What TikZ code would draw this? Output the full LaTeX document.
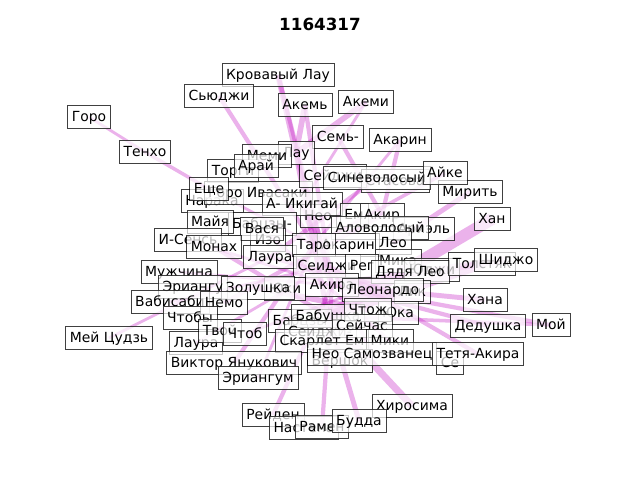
\documentclass[tikz,border=0pt]{standalone}
\usepackage{fontspec}
\setmainfont{DejaVu Sans}
\usetikzlibrary{backgrounds}
\definecolor{edgem}{RGB}{191,0,191}
\tikzset{
  lbl/.style={draw=black, draw opacity=0.75, fill=white, fill opacity=0.7, text opacity=1,
    inner xsep=3pt, inner ysep=2.9pt, text height=8.4pt, text depth=2.5pt,
    font=\fontsize{9.9}{11}\selectfont},
  edge/.style={draw=edgem, draw opacity=0.3},
}
\begin{document}
\begin{tikzpicture}[x=0.025cm, y=-0.025cm]
   \useasboundingbox (0,0) rectangle (640,480);
   \node[font=\bfseries\fontsize{11.9}{13}\selectfont] (title) at (320,24) {1164317};

        % labels, outer ring
        \node[lbl] (krov) at (278,75) {Кровавый Лау};
        \node[lbl] (sjudzhi) at (219,96) {Сьюджи};
        \node[lbl] (akem) at (305,105) {Акемь};
        \node[lbl] (akemi) at (366,102) {Акеми};
        \node[lbl] (goro) at (89,117) {Горо};
        \node[lbl] (tenho) at (145,152) {Тенхо};
        \node[lbl] (sem) at (338,137) {Семь-};
        \node[lbl] (akarin) at (400,140) {Акарин};
        \node[lbl] (mirit) at (470,192) {Мирить};
        \node[lbl] (han) at (492,219) {Хан};
        \node[lbl] (meicz) at (109,338) {Мей Цудзь};
        \node[lbl] (moj) at (551,325) {Мой};
        \node[lbl] (hirosima) at (412,406) {Хиросима};
        \node[lbl] (rejden) at (273,415) {Рейден};
        \node[lbl] (nastena) at (304,428) {Настена};
        \node[lbl] (ramen) at (322,427) {Рамен};
        \node[lbl] (budda) at (359,421) {Будда};

        % labels, upper middle
        \node[lbl] (naraka) at (212,201) {Нарака};
        \node[lbl] (torgi) at (233,171) {Торги};
        \node[lbl] (goroiv) at (258,193) {Горо Ивасаки};
        \node[lbl] (esche) at (209,189) {Еще};
        \node[lbl] (lau) at (296,153) {Лау};
        \node[lbl] (memi) at (267,156) {Меми};
        \node[lbl] (araj) at (256,166) {Арай};
        \node[lbl] (sej) at (333,176) {Сейджи};
        \node[lbl] (stas) at (395,181) {Стасова};
        \node[lbl] (sinev) at (377,178) {Синеволосый};
        \node[lbl] (ajke) at (445,173) {Айке};
        \node[lbl] (neo) at (318,216) {Нео};
        \node[lbl] (ikigaj) at (302,204) {А- Икигай};
        \node[lbl] (em) at (354,215) {Ем};
        \node[lbl] (akir) at (382,215) {Акир};
        \node[lbl] (ariel) at (424,229) {Ариэль};
        \node[lbl] (alovol) at (380,228) {Аловолосый};

        % labels, left middle
        \node[lbl] (babcy) at (262,224) {Бабцзы-};
        \node[lbl] (izo) at (268,240) {Изо};
        \node[lbl] (majya) at (210,222) {Майя};
        \node[lbl] (vasya) at (262,229) {Вася};
        \node[lbl] (isens) at (188,240) {И-Сенсь};
        \node[lbl] (monah) at (214,247) {Монах};
        \node[lbl] (laura) at (270,257) {Лаура};
        \node[lbl] (karin) at (348,245) {Акарин};
        \node[lbl] (taro) at (314,245) {Таро};
        \node[lbl] (leo) at (393,243) {Лео};
        \node[lbl] (seidzh) at (327,266) {Сеиджи};
        \node[lbl] (mika) at (398,261) {Мика};
        \node[lbl] (reg) at (362,266) {Рег};
        \node[lbl] (yudzhi) at (432,270) {Юджи};
        \node[lbl] (dyadya) at (410,272) {Дядя Лео};
        \node[lbl] (tolstyak) at (482,264) {Толстяк};
        \node[lbl] (shidzho) at (506,260) {Шиджо};

        % labels, lower middle
        \node[lbl] (muzh) at (179,272) {Мужчина};
        \node[lbl] (eriangu) at (193,287) {Эриангу};
        \node[lbl] (yuki) at (285,289) {Юки};
        \node[lbl] (zolushka) at (258,288) {Золушка};
        \node[lbl] (akira) at (332,285) {Акира};
        \node[lbl] (lik) at (412,292) {Лик};
        \node[lbl] (leonardo) at (383,290) {Леонардо};
        \node[lbl] (hana) at (485,300) {Хана};
        \node[lbl] (vabisabi) at (170,302) {Вабисаби};
        \node[lbl] (nemo) at (224,303) {Немо};
        \node[lbl] (chtoby) at (190,318) {Чтобы};
        \node[lbl] (baoczy) at (300,321) {Бабцзы};
        \node[lbl] (babushka) at (328,316) {Бабушка};
        \node[lbl] (yuka) at (398,313) {Юка};
        \node[lbl] (chtozh) at (368,310) {Чтож};
        \node[lbl] (dedushka) at (488,326) {Дедушка};
        \node[lbl] (laura2) at (196,343) {Лаура};
        \node[lbl] (tvoj) at (220,331) {Твой};
        \node[lbl] (chtob) at (245,334) {Чтоб};
        \node[lbl] (seidzhi) at (320,332) {Сеиджи-};
        \node[lbl] (sejchas) at (362,326) {Сейчас};
        \node[lbl] (skarlet) at (322,341) {Скарлет Ем};
        \node[lbl] (miki) at (390,341) {Мики};
        \node[lbl] (vershok) at (340,361) {Вершок};
        \node[lbl] (neosam) at (372,354) {Нео Самозванец};
        \node[lbl] (se) at (450,363) {Се};
        \node[lbl] (tetya) at (478,354) {Тетя-Акира};
        \node[lbl] (viktor) at (234,363) {Виктор Янукович};
        \node[lbl] (eriangum) at (258,378) {Эриангум};

   \begin{scope}[on background layer]
        \fill[white] (0,0) rectangle (640,480);
        % edges
        \draw[edge, line width=2pt] (goro.center) -- (tenho.center);
        \draw[edge, line width=2.5pt] (tenho.center) -- (esche.center);
        \draw[edge, line width=2pt] (esche.center) -- (taro.center);
        \draw[edge, line width=3pt] (sjudzhi.center) -- (taro.center);
        \draw[edge, line width=4pt] (krov.center) -- (lau.center);
        \draw[edge, line width=3pt] (krov.center) -- (seidzh.center);
        \draw[edge, line width=4pt] (akem.center) -- (lau.center);
        \draw[edge, line width=3pt] (akem.center) -- (akira.center);
        \draw[edge, line width=4pt] (akemi.center) -- (lau.center);
        \draw[edge, line width=2pt] (akemi.center) -- (ikigaj.center);
        \draw[edge, line width=3pt] (sem.center) -- (akir.center);
        \draw[edge, line width=3pt] (akarin.center) -- (akir.center);
        \draw[edge, line width=2pt] (akarin.center) -- (taro.center);
        \draw[edge, line width=2.5pt] (ajke.center) -- (taro.center);
        \draw[edge, line width=3.5pt] (mirit.center) -- (leo.center);
        \draw[edge, line width=8.5pt] (han.center) -- (babushka.center);
        \draw[edge, line width=7pt] (tolstyak.center) -- (babushka.center);
        \draw[edge, line width=5pt] (shidzho.center) -- (akira.center);
        \draw[edge, line width=3.5pt] (hana.center) -- (leonardo.center);
        \draw[edge, line width=3pt] (dedushka.center) -- (akira.center);
        \draw[edge, line width=3pt] (moj.center) -- (akira.center);
        \draw[edge, line width=2.5pt] (moj.center) -- (babushka.center);
        \draw[edge, line width=3pt] (tetya.center) -- (seidzh.center);
        \draw[edge, line width=5pt] (hirosima.center) -- (babushka.center);
        \draw[edge, line width=3.5pt] (budda.center) -- (babushka.center);
        \draw[edge, line width=3pt] (ramen.center) -- (akira.center);
        \draw[edge, line width=3pt] (rejden.center) -- (akira.center);
        \draw[edge, line width=2pt] (eriangum.center) -- (taro.center);
        \draw[edge, line width=2pt] (meicz.center) -- (laura.center);
        \draw[edge, line width=2pt] (muzh.center) -- (akira.center);
        \draw[edge, line width=2pt] (vabisabi.center) -- (seidzh.center);
        \draw[edge, line width=2pt] (isens.center) -- (akira.center);
        \draw[edge, line width=3pt] (monah.center) -- (babushka.center);
        % center
        \draw[edge, line width=4pt] (lau.center) -- (taro.center);
        \draw[edge, line width=3.5pt] (lau.center) -- (seidzh.center);
        \draw[edge, line width=4pt] (ikigaj.center) -- (akira.center);
        \draw[edge, line width=3.5pt] (taro.center) -- (babushka.center);
        \draw[edge, line width=3.5pt] (seidzh.center) -- (leonardo.center);
        \draw[edge, line width=3pt] (laura.center) -- (leonardo.center);
        \draw[edge, line width=4pt] (zolushka.center) -- (chtozh.center);
        \draw[edge, line width=3pt] (nemo.center) -- (akir.center);
        \draw[edge, line width=2pt] (chtob.center) -- (dyadya.center);
        \draw[edge, line width=3pt] (viktor.center) -- (taro.center);
        \draw[edge, line width=2pt] (laura2.center) -- (seidzh.center);
        \draw[edge, line width=3pt] (sinev.center) -- (laura.center);
        \draw[edge, line width=2.5pt] (neosam.center) -- (ikigaj.center);
        \draw[edge, line width=2.5pt] (vasya.center) -- (miki.center);
   \end{scope}
\end{tikzpicture}
\end{document}
